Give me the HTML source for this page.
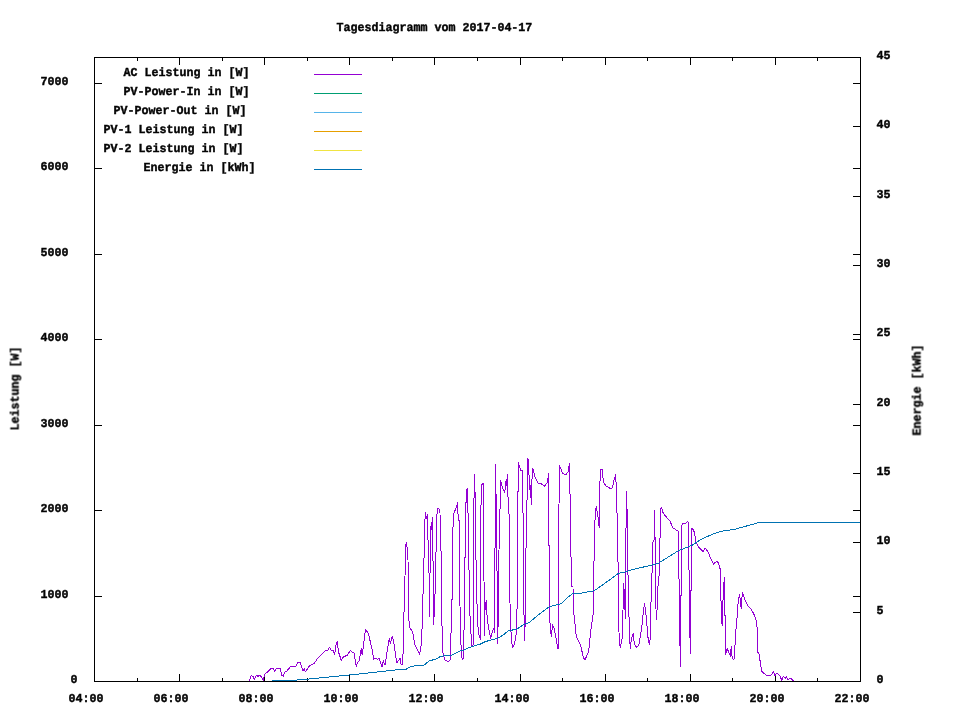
<!DOCTYPE html>
<html lang="de"><head><meta charset="utf-8"><title>Tagesdiagramm vom 2017-04-17</title>
<style>
html,body{margin:0;padding:0;background:#fff;}
body{width:960px;height:720px;overflow:hidden;font-family:"Liberation Mono",monospace;}
svg{display:block;}
</style></head><body>
<svg width="960" height="720" viewBox="0 0 960 720">
<rect width="960" height="720" fill="#fff"/>
<g fill="none" stroke="#000" stroke-width="1" shape-rendering="crispEdges"><rect x="94.5" y="57.5" width="766.0" height="624.0"/><path d="M94.5,681.5v-8M94.5,57.5v7M137.5,681.5v-4M137.5,57.5v3M179.5,681.5v-8M179.5,57.5v7M222.5,681.5v-4M222.5,57.5v3M264.5,681.5v-8M264.5,57.5v7M307.5,681.5v-4M307.5,57.5v3M349.5,681.5v-8M349.5,57.5v7M392.5,681.5v-4M392.5,57.5v3M434.5,681.5v-8M434.5,57.5v7M477.5,681.5v-4M477.5,57.5v3M520.5,681.5v-8M520.5,57.5v7M562.5,681.5v-4M562.5,57.5v3M605.5,681.5v-8M605.5,57.5v7M647.5,681.5v-4M647.5,57.5v3M690.5,681.5v-8M690.5,57.5v7M732.5,681.5v-4M732.5,57.5v3M775.5,681.5v-8M775.5,57.5v7M817.5,681.5v-4M817.5,57.5v3M860.5,681.5v-8M860.5,57.5v7M94.5,681.5h7M860.5,681.5h-8M94.5,596.5h7M860.5,596.5h-8M94.5,510.5h7M860.5,510.5h-8M94.5,425.5h7M860.5,425.5h-8M94.5,339.5h7M860.5,339.5h-8M94.5,254.5h7M860.5,254.5h-8M94.5,168.5h7M860.5,168.5h-8M94.5,83.5h7M860.5,83.5h-8M860.5,681.5h-8M860.5,612.5h-8M860.5,542.5h-8M860.5,473.5h-8M860.5,404.5h-8M860.5,334.5h-8M860.5,265.5h-8M860.5,196.5h-8M860.5,126.5h-8M860.5,57.5h-8"/></g>
<path d="M314,74.5H362" stroke="#9400d3" stroke-width="1" shape-rendering="crispEdges"/>
<path d="M314,93.5H362" stroke="#009e73" stroke-width="1" shape-rendering="crispEdges"/>
<path d="M314,112.5H362" stroke="#56b4e9" stroke-width="1" shape-rendering="crispEdges"/>
<path d="M314,131.5H362" stroke="#e69f00" stroke-width="1" shape-rendering="crispEdges"/>
<path d="M314,150.5H362" stroke="#f0e442" stroke-width="1" shape-rendering="crispEdges"/>
<path d="M314,169.5H362" stroke="#0072b2" stroke-width="1" shape-rendering="crispEdges"/>
<path d="M249.2,680.8 L251.3,675.3 L253.3,676.7 L254.2,680 L256.2,675.5 L258,676.2 L260.3,675.3 L263.3,680.3 L264.5,674.2 L267.5,672 L271.3,668.3 L273.3,668.3 L274.5,671.2 L276.7,668.3 L280,668.3 L282,675.8 L283.3,676.2 L285,671.7 L286.7,671.2 L290.8,666.3 L293.7,666.2 L295,667.2 L298.3,662.2 L300.3,662.8 L303,670.5 L304.2,668.7 L305.3,672 L309.2,666.2 L314.2,663.3 L318.3,657.5 L325.3,650.5 L327.5,650.5 L329.5,647.5 L331.7,650.8 L333,650.5 L334.7,654.2 L335.8,645.8 L337.2,641.7 L338.7,652.5 L341.3,660.3 L343.3,657 L345,656.7 L346.2,655 L347.5,655 L350.3,650.5 L352,652.2 L353.8,652.2 L356.2,666.2 L358,661.7 L359.3,660.8 L361.3,648.3 L362.2,655 L363.3,646.7 L365.5,629.2 L368.3,633.3 L371.7,647.5 L373.7,659.2 L375.8,658.3 L377.5,659.2 L379.2,658.3 L382,667.2 L383.3,660.8 L385,665.3 L389.2,638.3 L390.3,643.3 L392.2,636.7 L393.7,641.7 L396.7,663 L400,658.3 L400,661.3 L401.3,664.7 L402.5,664.7 L403,655 L403.7,623.3 L405,576.7 L405.5,548.3 L406.3,542.2 L407.2,548.3 L408,560 L408.3,595 L409.2,626.7 L412.5,631.7 L415,645 L419.7,654.2 L421.7,641.7 L422.5,610 L423.8,570 L424.5,530 L425.3,512.5 L426.3,518.3 L427.5,514.2 L427.8,540 L428.7,540.8 L429.2,590.8 L429.7,616.7 L430,573.3 L430.5,531.7 L431.3,522.5 L431.7,530 L432.5,517.5 L432.8,543.3 L433.3,586.7 L433.7,625 L434.5,605 L435.5,583.3 L436.2,540.8 L437.2,508.3 L439.2,509.2 L440,513.3 L440.5,550 L441.7,551.7 L441.7,616.7 L443,653.3 L445,660 L448.3,661.7 L450.5,659.2 L451.3,618.3 L452.5,586.7 L452.5,550 L453.3,514.2 L456.7,506.7 L457.5,502.5 L458.3,520 L459.5,520.8 L459.5,586.7 L461.3,656.7 L463,659.7 L463.8,641.7 L464.7,590.8 L465.3,527.5 L466.3,492.5 L467.3,488.3 L467.5,511.7 L468.3,513.3 L468.8,558.3 L469.7,610 L471.7,646.7 L473.3,645 L473.3,560 L474.3,474.2 L475.3,499.2 L475.8,548.3 L476.7,596.7 L478.3,633.3 L480.5,639.2 L480.5,561.7 L481.2,485 L483.3,483.3 L483.8,559.2 L484.5,635 L485,610 L486.3,600 L486.7,611.7 L488.3,626.7 L490.8,638.3 L492.2,631.7 L493.7,628.3 L494.5,632.5 L495,550 L495.5,465 L496.3,510 L497.2,586.7 L497.5,643.3 L498.3,618.3 L498.8,566.7 L499.5,510 L500.5,508.3 L500.5,480 L502.5,488.3 L504.7,492.5 L506.2,479.2 L506.7,485.8 L507.5,474.7 L507.8,496.7 L508.8,498.3 L509.5,548.3 L510,603.3 L511.3,640 L512.8,647.5 L514.7,643.3 L516.2,633.3 L517.2,603.3 L517.5,544.2 L518.3,462.5 L519.7,467.5 L520.8,470.3 L522.5,470.3 L522.8,512.5 L523.7,514.2 L523.7,598.3 L524.5,640.8 L525.3,620 L525.8,585 L526.3,501.7 L527.2,500 L527.5,458.3 L528.3,459.2 L528.8,470.8 L529.7,490 L530.5,485.8 L531.3,504.2 L531.7,485.8 L532.5,468.3 L533.3,470 L535,476.7 L538,483 L541.3,483.8 L544.5,486.3 L547.2,482.8 L548,478.3 L548.5,473.3 L548.8,545 L549.7,546.7 L549.7,620 L551.3,636.7 L552.5,625 L554.2,628.3 L555.8,636.7 L558,649.2 L558.7,648.3 L558.3,558.3 L559.5,465.8 L560,466.7 L562.5,473.3 L565.8,474.7 L568.3,471.7 L569.3,463.3 L569.5,493.3 L570.5,495 L570.8,555 L572,565 L571.7,586.7 L573,586.7 L573.3,608.3 L576.3,636.7 L580.8,645.8 L583.3,657.5 L585,659.7 L588.7,651.7 L590.8,630 L593.3,613.3 L593.8,585 L594.2,540.8 L595.3,512.5 L596.3,506.3 L598,516.7 L599.2,527.5 L599.5,499.2 L600.3,470 L602.2,469.2 L603.3,481.7 L605.8,485.8 L610,488.3 L612.5,488 L614.2,479.2 L615.5,475 L616.2,484.2 L616.7,512.5 L617.5,513.3 L618,561.7 L618.3,616.7 L619.5,643.3 L620.5,647.5 L622.2,637.5 L623,610 L623.7,583.3 L624.2,609.2 L625,589.2 L625.5,618.3 L625.5,555 L626.7,491.7 L627.2,520 L627.8,566.7 L628.3,586.7 L628.8,610 L629.7,639.2 L630.3,648.3 L631.3,639.2 L632.2,636.7 L633.3,633.3 L634.2,643.3 L636.2,647.5 L638.8,645 L641.7,628.3 L643,615 L644.5,603.3 L645.5,610 L646.3,618.3 L648.3,640.8 L649.5,644.2 L650.5,636.7 L650.8,602.5 L651.7,600 L652,573.3 L653,541.7 L654.2,540 L654.5,510.8 L655,536.7 L655.5,540.8 L655.5,590 L656.3,620 L657.2,607.5 L657.8,588.3 L659.5,571.7 L659.5,538.3 L660.5,537.5 L660.5,509.2 L661.3,507.2 L663.3,513.3 L666.7,517.5 L670,520.8 L672.5,527.5 L675.8,529.7 L678.3,531.2 L678.8,565 L679.2,591.7 L679.7,632.5 L680.5,666.7 L680.8,595.8 L681.7,595 L681.3,563.3 L681.3,525.8 L683.3,523.3 L685.8,523.3 L687.5,521.3 L688.3,522.5 L688.8,555 L689.7,620 L690.3,653.3 L690.8,590.8 L691.7,590 L691.7,528.3 L693.3,529.7 L694.7,533.3 L695.8,541.7 L698.3,546.7 L700,548.3 L703.1,551.5 L705.2,548.3 L707.9,551.5 L710.4,557.7 L713.5,564 L717.1,560.8 L718.8,564 L720.2,569.2 L720.8,592.1 L721.5,620.2 L722.3,625.4 L723.3,590 L724.4,577.5 L724.4,612.9 L725.4,617.1 L725.6,654.6 L727.1,648.3 L729.2,653.5 L730.6,656.7 L731.2,646.2 L732.3,658.8 L734,659.4 L734.8,648.3 L735.8,631.7 L737.1,617.1 L738.1,602.5 L739.6,594.2 L741.2,608.8 L742.3,592.1 L744.8,599.4 L747.9,605.6 L751,608.8 L753.8,614 L755.8,619.2 L756.9,623.3 L757.9,652.5 L759,653.5 L759.4,659.8 L760.4,660.8 L761.5,671.2 L763.5,672.9 L766.7,675.4 L769.8,675.8 L771.9,674.4 L773.5,671.2 L775,675.4 L776.7,673.3 L778.8,674.4 L780.2,676.5 L781.9,680.6 L783.3,676.5 L785.4,678.5 L786.5,676.5 L787.9,680 L790.2,677.9 L792.7,680 L793.8,681.2" fill="none" stroke="#9400d3" stroke-width="1" stroke-linejoin="round" shape-rendering="crispEdges"/>
<path d="M271.7,680.3 L293.3,680.3 L306.7,679.2 L349.5,675 L400,669.5 L405.8,669.5 L410.8,666.3 L424.2,665 L429.2,660.8 L435.8,659.2 L440.8,656.2 L451.7,655.3 L459.2,651.2 L463.3,650.5 L469.2,647.5 L480,644.2 L485,641.7 L497.5,638.3 L503.3,635 L508.3,630.8 L516.7,629.2 L524.2,624.2 L529.2,622.5 L538.3,615 L549.2,606.7 L560,604 L561.7,603.3 L566.7,598 L572.5,593.8 L581.7,593 L594.2,590.8 L608.3,580.8 L618.3,573.3 L625,572 L630.8,570 L650,565.5 L658.3,563.3 L668.3,557 L678.3,550.8 L691.7,545.5 L700,540 L710,535.3 L720,531.5 L735,529.2 L759.2,522.5 L860,522.5" fill="none" stroke="#0072b2" stroke-width="1" stroke-linejoin="round" shape-rendering="crispEdges"/>
<g font-family="'Liberation Mono', monospace" font-weight="bold" font-size="11.667px" fill="#000" stroke="#000" stroke-width="0.4" text-rendering="geometricPrecision" style="white-space:pre;opacity:.99">
<text transform="translate(336.5,31) scale(1,1.04)">Tagesdiagramm vom 2017-04-17</text>
<text transform="translate(123.5,76) scale(1,1.04)">AC Leistung in [W]</text>
<text transform="translate(123.5,95) scale(1,1.04)">PV-Power-In in [W]</text>
<text transform="translate(113.5,114) scale(1,1.04)">PV-Power-Out in [W]</text>
<text transform="translate(103.5,133) scale(1,1.04)">PV-1 Leistung in [W]</text>
<text transform="translate(103.5,152) scale(1,1.04)">PV-2 Leistung in [W]</text>
<text transform="translate(143.5,171) scale(1,1.04)">Energie in [kWh]</text>
<text transform="translate(70.5,683) scale(1,1.04)">0</text>
<text transform="translate(40.5,598) scale(1,1.04)">1000</text>
<text transform="translate(40.5,512) scale(1,1.04)">2000</text>
<text transform="translate(40.5,427) scale(1,1.04)">3000</text>
<text transform="translate(40.5,341) scale(1,1.04)">4000</text>
<text transform="translate(40.5,256) scale(1,1.04)">5000</text>
<text transform="translate(40.5,170) scale(1,1.04)">6000</text>
<text transform="translate(40.5,85) scale(1,1.04)">7000</text>
<text transform="translate(876.5,683) scale(1,1.04)">0</text>
<text transform="translate(876.5,614) scale(1,1.04)">5</text>
<text transform="translate(876.5,544) scale(1,1.04)">10</text>
<text transform="translate(876.5,475) scale(1,1.04)">15</text>
<text transform="translate(876.5,406) scale(1,1.04)">20</text>
<text transform="translate(876.5,336) scale(1,1.04)">25</text>
<text transform="translate(876.5,267) scale(1,1.04)">30</text>
<text transform="translate(876.5,198) scale(1,1.04)">35</text>
<text transform="translate(876.5,128) scale(1,1.04)">40</text>
<text transform="translate(876.5,59) scale(1,1.04)">45</text>
<text transform="translate(68.5,702) scale(1,1.04)">04:00</text>
<text transform="translate(153.5,702) scale(1,1.04)">06:00</text>
<text transform="translate(238.5,702) scale(1,1.04)">08:00</text>
<text transform="translate(323.5,702) scale(1,1.04)">10:00</text>
<text transform="translate(408.5,702) scale(1,1.04)">12:00</text>
<text transform="translate(494.5,702) scale(1,1.04)">14:00</text>
<text transform="translate(579.5,702) scale(1,1.04)">16:00</text>
<text transform="translate(664.5,702) scale(1,1.04)">18:00</text>
<text transform="translate(749.5,702) scale(1,1.04)">20:00</text>
<text transform="translate(834.5,702) scale(1,1.04)">22:00</text>
<text transform="translate(19,430.5) rotate(-90) scale(1,1.04)">Leistung [W]</text>
<text transform="translate(921,435.5) rotate(-90) scale(1,1.04)">Energie [kWh]</text>
</g></svg>
</body></html>
